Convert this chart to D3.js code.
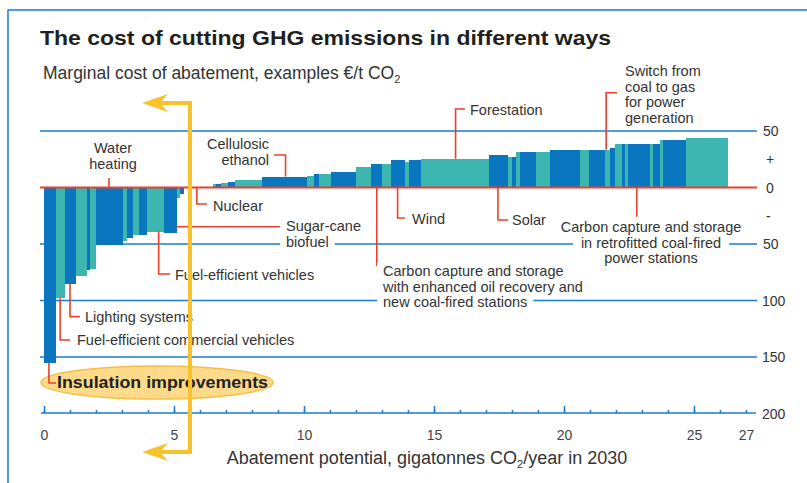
<!DOCTYPE html>
<html>
<head>
<meta charset="utf-8">
<title>The cost of cutting GHG emissions</title>
<style>
  body { margin: 0; background: #fff; }
  svg text { font-family: "Liberation Sans", Arial, Helvetica, sans-serif; fill: #333; }
  .note { font-size: 14.5px; }
  .tick-label { font-size: 14px; fill: #444; }
</style>
</head>
<body>
<svg id="chart" width="807" height="483"></svg>
<script src="https://cdn.jsdelivr.net/npm/d3@7"></script>
<script>
// abatement potential of each measure (Gt CO2/year), left to right
const widths = [
  0.46, 0.35, 0.42, 0.43, 0.12, 0.22, 1.05, 0.13, 0.24, 0.23, 0.31, 0.67, 0.49, 0.12, 0.15,
  1.12,
  0.12, 0.19, 0.27, 0.27, 1.04, 1.73, 0.27, 0.19, 0.46, 0.96, 0.58, 0.42, 0.35, 0.54, 0.15, 0.46,
  2.62, 0.73, 0.15, 0.15, 0.15, 0.62, 0.54, 1.15, 0.35, 0.62, 0.19, 0.19, 0.27, 0.12, 0.12, 0.81,
  0.12, 0.27, 0.12, 0.88, 1.62
];
// marginal cost of abatement (€/t CO2)
const costs = [
  -155, -98, -85, -78, -73, -72, -51, -47, -45, -42, -42, -39, -40, -9, -6,
  0,
  3, 3.5, 4, 5, 6.7, 9.7, 10.5, 12, 12, 13.8, 18.3, 21, 21, 24.5, 22.7, 24.5,
  25.4, 29, 27, 27, 31.6, 31.6, 31.6, 33.3, 33.3, 33.3, 33.3, 35, 38.7, 38.7, 38.7, 38.7,
  38.7, 38.7, 42.2, 42.2, 44
];
// b = dark blue, t = teal
const shades = [
  "b","t","b","t","b","t","b","t","b","t","b","t","b","t","b",
  "b",
  "t","b","t","b","t","b","t","b","t","b","t","b","t","b","t","b",
  "t","b","t","b","t","b","t","b","t","b","t","b","t","b","t","b",
  "t","b","t","b","t"
];
const xLabelValues = [0, 5, 10, 15, 20, 25, 27];
const xMajorTicks = [0, 5, 10, 15, 20, 25];
const gridValues = [50, -50, -100, -150];
const yLabelValues = [50, 25, 0, -25, -50, -100, -150, -200];
const yLabels = ["50", "+", "0", "-", "50", "100", "150", "200"];

const BLUE = "#0a76bf", TEAL = "#3db5b0", LINE = "#1a7bd0", RED = "#e8412c", GOLD = "#f7c22b";

const svg = d3.select("#chart");
const x = d3.scaleLinear().domain([0, 27]).range([44, 746]);
const y = d3.scaleLinear().domain([-200, 50]).range([413.5, 131]);

// frame
svg.append("path").attr("d", "M8,483V10H807")
  .attr("fill", "none").attr("stroke", LINE).attr("stroke-width", 1.5);

// titles
svg.append("text").attr("x", 40).attr("y", 45)
  .attr("textLength", 571).attr("lengthAdjust", "spacingAndGlyphs")
  .style("font-size", "21px").style("font-weight", "bold").style("fill", "#231f20")
  .text("The cost of cutting GHG emissions in different ways");
const sub = svg.append("text").attr("x", 43).attr("y", 79).style("font-size", "17.5px");
sub.append("tspan").text("Marginal cost of abatement, examples €/t CO");
sub.append("tspan").attr("dy", 4).style("font-size", "11px").text("2");

// gridlines
svg.append("g").selectAll("line").data(gridValues).join("line")
  .attr("x1", 40).attr("x2", 757)
  .attr("y1", d => y(d)).attr("y2", d => y(d))
  .attr("stroke", LINE).attr("stroke-width", 1.5);

// right-hand value labels
svg.append("g").selectAll("text").data(yLabelValues).join("text")
  .attr("x", (d, i) => yLabels[i].length === 1 ? 766 : (yLabels[i].length === 2 ? 763 : 762))
  .attr("y", d => y(d) + 5)
  .style("font-size", "14px")
  .text((d, i) => yLabels[i]);

// bars
const starts = d3.cumsum([0].concat(widths.slice(0, -1)));
const bars = widths.map((w, i) => ({ x0: starts[i], w: w, c: costs[i], s: shades[i] }));
svg.append("g").selectAll("rect").data(bars).join("rect")
  .attr("x", d => x(d.x0))
  .attr("width", d => x(d.x0 + d.w) - x(d.x0))
  .attr("y", d => y(Math.max(0, d.c)))
  .attr("height", d => Math.abs(y(d.c) - y(0)))
  .attr("fill", d => d.s === "b" ? BLUE : TEAL)
  .attr("shape-rendering", "crispEdges");

// zero line
svg.append("line").attr("x1", 40).attr("x2", 757).attr("y1", y(0)).attr("y2", y(0))
  .attr("stroke", RED).attr("stroke-width", 1.8);

// x axis
const axisY = 413;
const gx = svg.append("g").attr("transform", `translate(0,${axisY})`);
gx.append("line").attr("x1", 41).attr("x2", 756).attr("stroke", LINE).attr("stroke-width", 1.5);
gx.append("g").call(d3.axisBottom(x).tickValues(d3.range(0, 28)).tickSize(-3).tickFormat(""))
  .call(g => g.select(".domain").remove())
  .selectAll("line").attr("stroke", LINE).attr("stroke-width", 1.5);
gx.append("g").call(d3.axisBottom(x).tickValues(xMajorTicks).tickSize(-7).tickFormat(""))
  .call(g => g.select(".domain").remove())
  .selectAll("line").attr("stroke", LINE).attr("stroke-width", 1.5);
gx.append("g").call(d3.axisBottom(x).tickValues(xLabelValues).tickSize(0).tickPadding(17))
  .call(g => g.select(".domain").remove())
  .selectAll("text").attr("class", "tick-label").style("font-family", null);

const xt = svg.append("text").attr("x", 427).attr("y", 464).attr("text-anchor", "middle").style("font-size", "18px");
xt.append("tspan").text("Abatement potential, gigatonnes CO");
xt.append("tspan").attr("dy", 4).style("font-size", "11px").text("2");
xt.append("tspan").attr("dy", -4).text("/year in 2030");

// leader lines, points in (Gt, €/t)
const leaders = [
  [[2.5, 8.4], [2.5, 0]],                              // water heating
  [[8.85, 28.8], [9.29, 28.8], [9.29, 9.7]],           // cellulosic ethanol
  [[5.88, 0], [5.88, -14.6], [6.27, -14.6]],           // nuclear
  [[5.1, -34.7], [9.14, -34.7]],                       // sugar-cane biofuel
  [[4.41, -39], [4.41, -76.5], [4.85, -76.5]],         // fuel-efficient vehicles
  [[1.0, -85], [1.0, -114.3], [1.38, -114.3]],         // lighting
  [[0.62, -98], [0.62, -135], [1.0, -135]],            // commercial vehicles
  [[13.6, 0], [13.6, -27], [13.88, -27]],              // wind
  [[12.8, 0], [12.8, -69.5]],                          // CCS + oil recovery
  [[17.46, 0], [17.46, -28.8], [17.85, -28.8]],        // solar
  [[15.83, 25.4], [15.83, 69.5], [16.19, 69.5]],       // forestation
  [[21.62, 33.3], [21.62, 83.9], [22.04, 83.9]],       // coal to gas
  [[22.8, 0], [22.8, -25.8]]                           // CCS retrofit
];
const line = d3.line().x(d => x(d[0])).y(d => y(d[1]));
svg.append("g").selectAll("path").data(leaders).join("path")
  .attr("d", line).attr("fill", "none").attr("stroke", RED).attr("stroke-width", 1.6);

// annotation text
function note(lines, px, py, anchor, bgPad) {
  const g = svg.append("g");
  const bg = g.append("g");
  const t = g.append("text").attr("class", "note").attr("text-anchor", anchor || "start");
  lines.forEach((s, i) => t.append("tspan").attr("x", px).attr("y", py + i * 15.5).text(s));
  if (bgPad) {
    t.selectAll("tspan").each(function () {
      const b = this.getBBox();
      bg.append("rect").attr("x", b.x - bgPad).attr("y", b.y).attr("width", b.width + bgPad * 2)
        .attr("height", b.height).attr("fill", "#fff");
    });
  }
}
note(["Water", "heating"], 113, 153, "middle");
note(["Cellulosic", "ethanol"], 269, 149, "end");
note(["Nuclear"], 213, 211);
note(["Sugar-cane", "biofuel"], 286, 231, "start", 6);
note(["Fuel-efficient vehicles"], 175, 280);
note(["Lighting systems"], 85, 322);
note(["Fuel-efficient commercial vehicles"], 77, 345);
note(["Wind"], 412, 224);
note(["Carbon capture and storage", "with enhanced oil recovery and", "new coal-fired stations"], 383, 276, "start", 6);
note(["Solar"], 512, 225);
note(["Forestation"], 470, 115);
note(["Switch from", "coal to gas", "for power", "generation"], 625, 76);
note(["Carbon capture and storage", "in retrofitted coal-fired", "power stations"], 651, 232, "middle", 8);

// insulation callout
svg.append("ellipse").attr("cx", 157).attr("cy", 382.5).attr("rx", 116).attr("ry", 16.5)
  .attr("fill", "#fdd98a").attr("stroke", "#f4c04a").attr("stroke-width", 1.5);
svg.append("path").attr("d", line([[0.19, -155], [0.19, -173], [0.46, -173]]))
  .attr("fill", "none").attr("stroke", RED).attr("stroke-width", 1.6);
svg.append("text").attr("x", 57).attr("y", 388)
  .attr("textLength", 211).attr("lengthAdjust", "spacingAndGlyphs")
  .style("font-size", "16px").style("font-weight", "bold").style("fill", "#222")
  .text("Insulation improvements");

// yellow double arrow
svg.append("path").attr("d", "M160,103H190V452H160")
  .attr("fill", "none").attr("stroke", GOLD).attr("stroke-width", 4);
[103, 452].forEach(ay => {
  svg.append("path")
    .attr("d", `M142,${ay}L168,${ay - 9}L160,${ay}L168,${ay + 9}Z`)
    .attr("fill", GOLD);
});
</script>
</body>
</html>
